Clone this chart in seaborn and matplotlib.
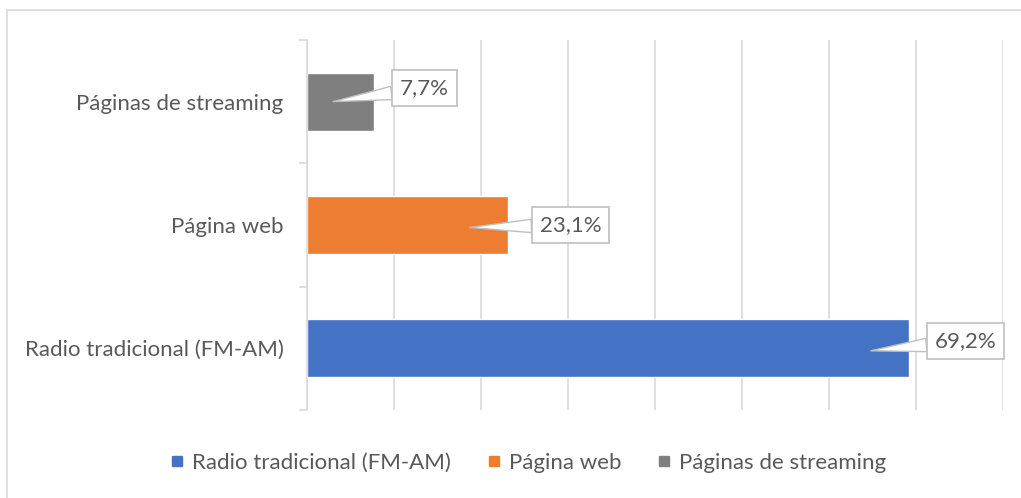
import matplotlib
matplotlib.use("Agg")
import matplotlib.pyplot as plt
import seaborn as sns
import pandas as pd
from matplotlib.patches import Rectangle

# Data
categories = ["Páginas de streaming", "Página web", "Radio tradicional (FM-AM)"]
values = [7.7, 23.1, 69.2]
colors = ["#7F7F7F", "#ED7D31", "#4472C4"]
legend_order = ["Radio tradicional (FM-AM)", "Página web", "Páginas de streaming"]

df = pd.DataFrame({"categoria": categories, "valor": values})

sns.set_style("white")
plt.rcParams["font.family"] = ["Lato", "DejaVu Sans"]
text_color = "#595959"

fig = plt.figure(figsize=(10.21, 4.98), dpi=100)
ax = fig.add_axes([307 / 1021, 1 - 410 / 498, (1003 - 307) / 1021, (410 - 40) / 498])

sns.barplot(data=df, y="categoria", x="valor", hue="categoria", palette=colors,
            order=categories, hue_order=categories, width=0.47, legend=False,
            saturation=1, ax=ax, orient="h")

ax.set_xlim(0, 80)
ax.set_ylim(2.5, -0.5)
ax.set_xticks(range(0, 81, 10))
ax.set_xticklabels([])
ax.tick_params(axis="x", length=0)
ax.grid(axis="x", color="#D9D9D9", linewidth=1.2)
ax.set_axisbelow(True)
for s in ["top", "right", "bottom"]:
    ax.spines[s].set_visible(False)
ax.spines["left"].set_color("#D9D9D9")
ax.spines["left"].set_linewidth(1.2)
ax.set_yticks([0, 1, 2])
ax.set_yticklabels(categories, color=text_color, fontsize=16)
ax.set_yticks([-0.5, 0.5, 1.5, 2.5], minor=True)
ax.tick_params(axis="y", which="major", left=False, length=0, pad=17)
ax.tick_params(axis="y", which="minor", left=True, length=6, color="#D9D9D9", width=1.2)
ax.set_xlabel("")
ax.set_ylabel("")

# callout labels
label_pos = [(13.5, -0.11), (30.3, 0.0), (75.7, -0.06)]
point_pos = [(3.0, 0.0), (18.7, 0.02), (64.8, 0.02)]
for i, v in enumerate(values):
    tx, ty = label_pos[i]
    px, py = point_pos[i]
    ax.annotate(f"{v:.1f}%".replace(".", ","), xy=(px, i + py), xytext=(tx, i + ty),
                ha="center", va="center", fontsize=16, color=text_color,
                bbox=dict(boxstyle="square,pad=0.35", fc="white", ec="#BFBFBF", lw=1.2),
                arrowprops=dict(arrowstyle="wedge,tail_width=0.6", fc="white",
                                ec="#BFBFBF", lw=1.0, shrinkA=0, shrinkB=0),
                zorder=5)

handles = [plt.Line2D([], [], marker="s", linestyle="", color=colors[categories.index(c)],
                      markersize=7) for c in legend_order]
fig.legend(handles, legend_order, loc="center", bbox_to_anchor=(0.517, 1 - 463 / 498),
           ncol=3, frameon=False, fontsize=16, labelcolor=text_color,
           handletextpad=0.3, columnspacing=1.6, handlelength=0.7)

# chart border
fig.add_artist(Rectangle((7 / 1021, -0.05), 1.1, 1 - 10 / 498 + 0.05,
                         transform=fig.transFigure, fill=False,
                         ec="#D9D9D9", lw=1.2))

fig.savefig("out.png", dpi=100)
